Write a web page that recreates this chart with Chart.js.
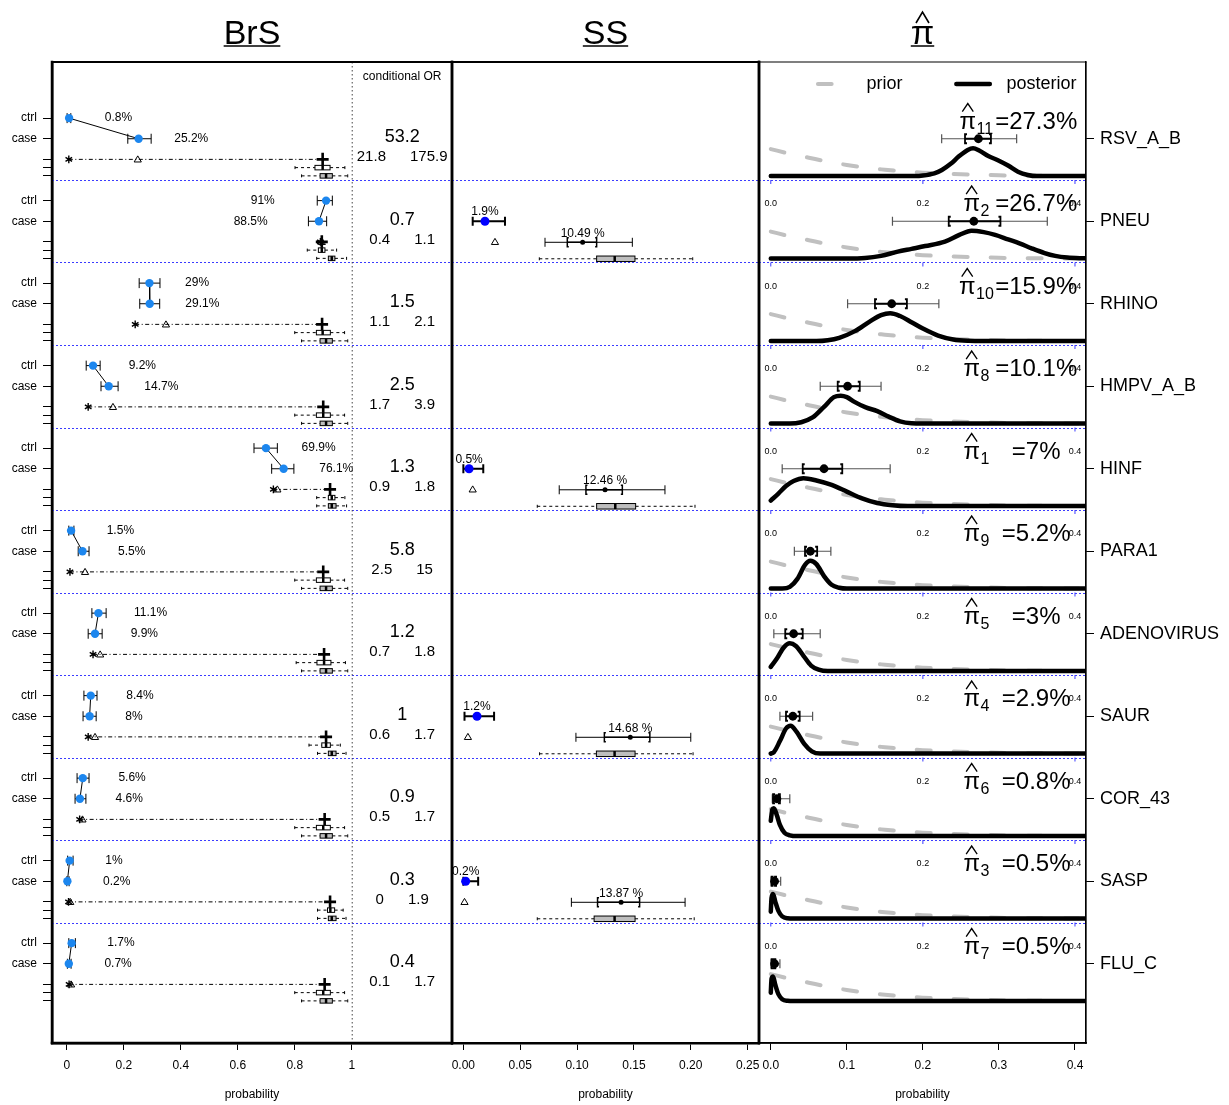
<!DOCTYPE html>
<html>
<head>
<meta charset="utf-8">
<script src="https://cdn.jsdelivr.net/npm/chart.js@4.4.0/dist/chart.umd.min.js"></script>
<style>
  body { margin: 0; background: #fff; }
  #wrap { position: relative; width: 1229px; height: 1105px; overflow: hidden; }
  #wrap canvas { position: absolute; left: 0; top: 0; }
</style>
</head>
<body>
<div id="wrap">
  <canvas id="brs" width="1229" height="1105"></canvas>
  <canvas id="ss" width="1229" height="1105"></canvas>
  <canvas id="pie" width="1229" height="1105"></canvas>
</div>
<script>
// ---- data ----
const pathogens = ['RSV_A_B', 'PNEU', 'RHINO', 'HMPV_A_B', 'HINF', 'PARA1', 'ADENOVIRUS', 'SAUR', 'COR_43', 'SASP', 'FLU_C'];
const piIndex = [11, 2, 10, 8, 1, 9, 5, 4, 6, 3, 7];

// BrS: observed positive rates with 95% CI
const ctrlRate = [0.008, 0.91, 0.29, 0.092, 0.699, 0.015, 0.111, 0.084, 0.056, 0.010, 0.017];
const ctrlLo = [0.001, 0.879, 0.254, 0.068, 0.657, 0.007, 0.088, 0.060, 0.036, 0.003, 0.007];
const ctrlHi = [0.014, 0.932, 0.327, 0.117, 0.739, 0.025, 0.138, 0.106, 0.078, 0.022, 0.030];
const caseRate = [0.252, 0.885, 0.291, 0.147, 0.761, 0.055, 0.099, 0.080, 0.046, 0.002, 0.007];
const caseLo = [0.214, 0.848, 0.256, 0.120, 0.719, 0.040, 0.075, 0.057, 0.029, 0.000, 0.002];
const caseHi = [0.296, 0.912, 0.326, 0.180, 0.797, 0.078, 0.124, 0.103, 0.067, 0.008, 0.015];
// fitted rates (star, triangle) and TPR marker (plus)
const starPos = [0.007, 0.890, 0.240, 0.075, 0.725, 0.011, 0.092, 0.075, 0.045, 0.006, 0.008];
const triPos = [0.249, 0.895, 0.348, 0.162, 0.739, 0.064, 0.117, 0.099, 0.055, 0.012, 0.015];
const plusPos = [0.898, 0.895, 0.896, 0.900, 0.924, 0.900, 0.903, 0.910, 0.905, 0.924, 0.905];
// posterior boxplots [lower whisker, q1, median, q3, upper whisker]
const brsBoxA = [
  [0.801, 0.871, 0.898, 0.924, 0.976], [0.844, 0.883, 0.895, 0.906, 0.947], [0.800, 0.876, 0.898, 0.925, 0.975],
  [0.800, 0.876, 0.900, 0.925, 0.975], [0.877, 0.918, 0.930, 0.941, 0.976], [0.800, 0.876, 0.900, 0.925, 0.975],
  [0.805, 0.878, 0.903, 0.927, 0.978], [0.850, 0.895, 0.910, 0.925, 0.960], [0.800, 0.876, 0.900, 0.925, 0.975],
  [0.880, 0.915, 0.925, 0.940, 0.970], [0.800, 0.876, 0.900, 0.925, 0.975]
];
const brsBoxB = [
  [0.824, 0.889, 0.910, 0.932, 0.986], [0.877, 0.918, 0.930, 0.941, 0.982], [0.824, 0.889, 0.910, 0.932, 0.986],
  [0.824, 0.889, 0.910, 0.932, 0.986], [0.877, 0.918, 0.930, 0.945, 0.982], [0.824, 0.889, 0.910, 0.932, 0.986],
  [0.824, 0.889, 0.910, 0.932, 0.986], [0.880, 0.918, 0.930, 0.945, 0.980], [0.824, 0.889, 0.910, 0.932, 0.986],
  [0.880, 0.918, 0.930, 0.945, 0.980], [0.824, 0.889, 0.910, 0.932, 0.986]
];
// conditional odds ratios
const orEst = [53.2, 0.7, 1.5, 2.5, 1.3, 5.8, 1.2, 1, 0.9, 0.3, 0.4];
const orLo = [21.8, 0.4, 1.1, 1.7, 0.9, 2.5, 0.7, 0.6, 0.5, 0, 0.1];
const orHi = [175.9, 1.1, 2.1, 3.9, 1.8, 15, 1.8, 1.7, 1.7, 1.9, 1.7];

// SS panel
const ssRate = [null, 0.019, null, null, 0.005, null, null, 0.012, null, 0.002, null];
const ssLo = [null, 0.0082, null, null, 0.000, null, null, 0.001, null, 0.000, null];
const ssHi = [null, 0.0366, null, null, 0.0175, null, null, 0.027, null, 0.013, null];
const ssTri = [null, 0.0278, null, null, 0.0082, null, null, 0.004, null, 0.001, null];
const ssFit = [null, 0.1049, null, null, 0.1246, null, null, 0.1468, null, 0.1387, null];
const ssFitLo95 = [null, 0.0718, null, null, 0.0843, null, null, 0.099, null, 0.095, null];
const ssFitHi95 = [null, 0.1486, null, null, 0.1773, null, null, 0.200, null, 0.195, null];
const ssFitLo50 = [null, 0.0914, null, null, 0.1078, null, null, 0.124, null, 0.118, null];
const ssFitHi50 = [null, 0.1172, null, null, 0.1398, null, null, 0.164, null, 0.155, null];
const ssBox = [null, [0.0668, 0.1172, 0.1331, 0.1509, 0.2017], null, null, [0.065, 0.1172, 0.1336, 0.1515, 0.2037],
  null, null, [0.067, 0.117, 0.133, 0.151, 0.202], null, [0.065, 0.115, 0.133, 0.151, 0.203], null];

// pi-hat panel
const piEst = [0.273, 0.267, 0.159, 0.101, 0.07, 0.052, 0.03, 0.029, 0.008, 0.005, 0.005];
const piLo95 = [0.2247, 0.160, 0.101, 0.065, 0.015, 0.031, 0.004, 0.012, 0.002, 0.0005, 0.0005];
const piHi95 = [0.3233, 0.3636, 0.221, 0.145, 0.157, 0.079, 0.065, 0.055, 0.025, 0.013, 0.012];
const piLo50 = [0.2554, 0.234, 0.137, 0.088, 0.042, 0.045, 0.019, 0.020, 0.003, 0.001, 0.001];
const piHi50 = [0.2895, 0.302, 0.179, 0.117, 0.094, 0.061, 0.042, 0.038, 0.012, 0.007, 0.006];

// densities, [x, relative height]
const priorCurve = [[0, 0.97], [0.025, 0.8], [0.05, 0.66], [0.075, 0.52], [0.1, 0.4], [0.125, 0.3], [0.15, 0.23],
  [0.175, 0.17], [0.2, 0.125], [0.25, 0.065], [0.3, 0.03], [0.35, 0.012], [0.4145, 0.002]];
const postRSV = [[0, 0], [0.19, 0], [0.2, 0.02], [0.215, 0.1], [0.225, 0.22], [0.237, 0.45], [0.247, 0.7], [0.259, 0.94],
  [0.266, 1], [0.274, 0.92], [0.286, 0.72], [0.298, 0.58], [0.312, 0.38], [0.325, 0.16], [0.338, 0.04], [0.35, 0], [0.4145, 0]];
const postPNEU = [[0, 0], [0.1, 0], [0.124, 0.02], [0.145, 0.1], [0.167, 0.25], [0.185, 0.35], [0.203, 0.45], [0.229, 0.61],
  [0.248, 0.85], [0.264, 1], [0.28, 0.95], [0.295, 0.85], [0.312, 0.69], [0.327, 0.55], [0.343, 0.37], [0.36, 0.2],
  [0.374, 0.1], [0.39, 0.04], [0.4145, 0.01]];
const postRHINO = [[0, 0], [0.06, 0], [0.075, 0.03], [0.09, 0.12], [0.11, 0.35], [0.13, 0.7], [0.145, 0.93], [0.157, 1],
  [0.17, 0.9], [0.185, 0.68], [0.2, 0.45], [0.22, 0.2], [0.24, 0.06], [0.26, 0.01], [0.28, 0], [0.4145, 0]];
const postHMPV = [[0, 0], [0.025, 0], [0.04, 0.05], [0.055, 0.22], [0.07, 0.6], [0.083, 0.95], [0.092, 1], [0.1, 0.95],
  [0.11, 0.78], [0.125, 0.58], [0.14, 0.45], [0.155, 0.25], [0.17, 0.08], [0.185, 0.01], [0.2, 0], [0.4145, 0]];
const postHINF = [[0, 0.2], [0.01, 0.45], [0.02, 0.72], [0.03, 0.9], [0.043, 1], [0.06, 0.92], [0.08, 0.76], [0.1, 0.52],
  [0.12, 0.28], [0.14, 0.11], [0.16, 0.03], [0.18, 0], [0.4145, 0]];
const postPARA1 = [[0, 0], [0.015, 0], [0.025, 0.06], [0.035, 0.35], [0.045, 0.85], [0.052, 1], [0.06, 0.88], [0.07, 0.45],
  [0.08, 0.14], [0.09, 0.03], [0.1, 0], [0.4145, 0]];
const postADENO = [[0, 0.15], [0.008, 0.45], [0.017, 0.85], [0.025, 1], [0.033, 0.9], [0.043, 0.55], [0.053, 0.2],
  [0.063, 0.05], [0.075, 0], [0.4145, 0]];
const postSAUR = [[0, 0], [0.004, 0.05], [0.012, 0.45], [0.02, 0.9], [0.026, 1], [0.034, 0.78], [0.044, 0.35], [0.054, 0.08],
  [0.065, 0], [0.4145, 0]];
const postCOR43 = [[0, 0.55], [0.002, 0.95], [0.004, 1], [0.008, 0.75], [0.012, 0.4], [0.018, 0.12], [0.025, 0.03],
  [0.035, 0], [0.4145, 0]];
const postSASP = [[0, 0.25], [0.001, 0.75], [0.003, 0.88], [0.006, 0.6], [0.01, 0.28], [0.015, 0.08], [0.022, 0.01],
  [0.03, 0], [0.4145, 0]];
const postFLUC = [[0, 0.3], [0.001, 0.8], [0.003, 0.88], [0.006, 0.58], [0.01, 0.25], [0.015, 0.07], [0.022, 0.01],
  [0.03, 0], [0.4145, 0]];
const postCurves = [postRSV, postPNEU, postRHINO, postHMPV, postHINF, postPARA1, postADENO, postSAUR, postCOR43, postSASP, postFLUC];

// ---- layout ----
const FONT = '"Liberation Sans", Arial, Helvetica, sans-serif';
Chart.defaults.font.family = FONT;
Chart.defaults.color = '#000';
Chart.defaults.animation = false;
Chart.defaults.plugins.legend.display = false;
Chart.defaults.plugins.tooltip.enabled = false;

const Y_MIN = -0.4606, Y_MAX = 11.4303;   // each pathogen owns one unit of y
const base = i => 10 - i;
const BLUE_PT = '#1c86ee';

function pct(v) { return String(Math.round(v * 1000) / 10) + '%'; }

function txt(ctx, s, x, y, size, align, baseline) {
  ctx.font = size + 'px ' + FONT;
  ctx.textAlign = align || 'center';
  ctx.textBaseline = baseline || 'middle';
  ctx.fillText(s, x, y);
}
function capBar(ctx, x1, x2, y, cap) {
  ctx.beginPath();
  ctx.moveTo(x1, y); ctx.lineTo(x2, y);
  ctx.moveTo(x1, y - cap); ctx.lineTo(x1, y + cap);
  ctx.moveTo(x2, y - cap); ctx.lineTo(x2, y + cap);
  ctx.stroke();
}
function bracketBar(ctx, x1, x2, y, cap, flag) {
  ctx.beginPath();
  ctx.moveTo(x1 + flag, y - cap); ctx.lineTo(x1, y - cap); ctx.lineTo(x1, y + cap); ctx.lineTo(x1 + flag, y + cap);
  ctx.moveTo(x2 - flag, y - cap); ctx.lineTo(x2, y - cap); ctx.lineTo(x2, y + cap); ctx.lineTo(x2 - flag, y + cap);
  ctx.moveTo(x1, y); ctx.lineTo(x2, y);
  ctx.stroke();
}
function boxPlot(ctx, X, y, s, h, fill) {
  const [wl, q1, md, q3, wh] = s.map(X);
  ctx.save();
  ctx.strokeStyle = '#000'; ctx.lineWidth = 1;
  ctx.setLineDash([3, 3]);
  ctx.beginPath(); ctx.moveTo(wl, y); ctx.lineTo(q1, y); ctx.moveTo(q3, y); ctx.lineTo(wh, y); ctx.stroke();
  ctx.setLineDash([]);
  ctx.beginPath(); ctx.moveTo(wl, y - 1.5); ctx.lineTo(wl, y + 1.5); ctx.moveTo(wh, y - 1.5); ctx.lineTo(wh, y + 1.5); ctx.stroke();
  ctx.fillStyle = fill;
  ctx.fillRect(q1, y - h / 2, q3 - q1, h);
  ctx.strokeRect(q1, y - h / 2, q3 - q1, h);
  ctx.lineWidth = 2.5;
  ctx.beginPath(); ctx.moveTo(md, y - h / 2); ctx.lineTo(md, y + h / 2); ctx.stroke();
  ctx.restore();
}
function triangle(ctx, x, y) {
  ctx.beginPath();
  ctx.moveTo(x, y - 3.5); ctx.lineTo(x + 3.6, y + 2.6); ctx.lineTo(x - 3.6, y + 2.6); ctx.closePath();
  ctx.stroke();
}
function asterisk(ctx, x, y) {
  ctx.beginPath();
  for (let k = 0; k < 3; k++) {
    const a = Math.PI / 2 + k * Math.PI / 3;
    ctx.moveTo(x + 3.8 * Math.cos(a), y - 3.8 * Math.sin(a));
    ctx.lineTo(x - 3.8 * Math.cos(a), y + 3.8 * Math.sin(a));
  }
  ctx.stroke();
}
function plus(ctx, x, y) {
  ctx.save(); ctx.lineWidth = 2.6;
  ctx.beginPath(); ctx.moveTo(x - 6, y); ctx.lineTo(x + 6, y); ctx.moveTo(x, y - 6.5); ctx.lineTo(x, y + 6.5); ctx.stroke();
  ctx.restore();
}
function rowRules(chart) {
  const {ctx, chartArea: a, scales: {y}} = chart;
  ctx.save();
  ctx.strokeStyle = '#3b3bff'; ctx.lineWidth = 1; ctx.setLineDash([2, 2]);
  for (let k = 1; k <= 10; k++) {
    const py = Math.round(y.getPixelForValue(k)) + 0.5;
    ctx.beginPath(); ctx.moveTo(a.left, py); ctx.lineTo(a.right, py); ctx.stroke();
  }
  ctx.restore();
}

// box outline + underlined panel title
const framePlugin = {
  id: 'frame',
  afterDraw(chart, args, o) {
    const {ctx, chartArea: a} = chart;
    ctx.save();
    ctx.strokeStyle = '#000'; ctx.lineCap = 'square';
    const side = (w, x1, y1, x2, y2) => {
      if (!w) return;
      ctx.lineWidth = w; ctx.beginPath(); ctx.moveTo(x1, y1); ctx.lineTo(x2, y2); ctx.stroke();
    };
    side(o.top, a.left, a.top, a.right, a.top);
    side(o.right, a.right, a.top, a.right, a.bottom);
    side(o.bottom, a.left, a.bottom, a.right, a.bottom);
    side(o.left, a.left, a.top, a.left, a.bottom);
    // title
    const cx = (a.left + a.right) / 2;
    ctx.fillStyle = '#000';
    ctx.font = '34px ' + FONT; ctx.textAlign = 'center'; ctx.textBaseline = 'alphabetic';
    ctx.fillText(o.title, cx, 43.5);
    const w = ctx.measureText(o.title).width;
    ctx.lineWidth = 1.5; ctx.lineCap = 'butt';
    ctx.beginPath(); ctx.moveTo(cx - w / 2, 46); ctx.lineTo(cx + w / 2, 46); ctx.stroke();
    if (o.hat) {
      ctx.lineWidth = 1.6;
      ctx.beginPath(); ctx.moveTo(cx - 6.5, 23); ctx.lineTo(cx, 12); ctx.lineTo(cx + 6.5, 23); ctx.stroke();
    }
    ctx.restore();
  }
};

function xAxis(min, max, ticks, fmt, border) {
  return {
    type: 'linear', min: min, max: max, bounds: 'data',
    afterBuildTicks: s => { s.ticks = ticks.map(v => ({value: v})); },
    afterFit: s => { s.height = 62; },
    ticks: { callback: fmt, font: {size: 12}, padding: 8, maxRotation: 0, autoSkip: false, color: '#000' },
    grid: { drawOnChartArea: false, tickLength: 7, tickColor: '#000' },
    border: { color: '#000', width: border },
    title: { display: true, text: 'probability', font: {size: 12}, padding: {top: 0, bottom: 3} }
  };
}

// ---- panel 1: BrS ----
const brsYTicks = [], brsYLabels = [];
pathogens.forEach((p, i) => {
  [[0.75, 'ctrl'], [0.5, 'case'], [0.25, ''], [0.15, ''], [0.05, '']].forEach(([o, l]) => {
    brsYTicks.push(base(i) + o); brsYLabels.push(l);
  });
});

const brsPlugin = {
  id: 'brsMarks',
  beforeDatasetsDraw(chart) {
    const {ctx, chartArea: a, scales: {x, y}} = chart;
    const X = v => x.getPixelForValue(v), Y = v => y.getPixelForValue(v);
    rowRules(chart);
    ctx.save();
    ctx.strokeStyle = '#444'; ctx.lineWidth = 1; ctx.setLineDash([1.5, 2.5]);
    ctx.beginPath(); ctx.moveTo(X(1) + 0.5, a.top); ctx.lineTo(X(1) + 0.5, a.bottom); ctx.stroke();
    ctx.setLineDash([]);
    ctx.strokeStyle = '#000';
    pathogens.forEach((p, i) => {
      const b = base(i);
      ctx.lineWidth = 1;
      capBar(ctx, X(ctrlLo[i]), X(ctrlHi[i]), Y(b + 0.75), 5);
      capBar(ctx, X(caseLo[i]), X(caseHi[i]), Y(b + 0.5), 5);
      // fitted line
      const ys = Y(b + 0.25);
      ctx.setLineDash([4, 2.5, 1, 2.5]);
      ctx.beginPath(); ctx.moveTo(X(starPos[i]), ys); ctx.lineTo(X(plusPos[i]), ys); ctx.stroke();
      ctx.setLineDash([]);
      ctx.lineWidth = 1.4;
      asterisk(ctx, X(starPos[i]), ys);
      ctx.lineWidth = 1;
      triangle(ctx, X(triPos[i]), ys);
      plus(ctx, X(plusPos[i]), ys);
      boxPlot(ctx, X, Y(b + 0.15), brsBoxA[i], 4.5, '#fff');
      boxPlot(ctx, X, Y(b + 0.05), brsBoxB[i], 4.5, '#bebebe');
    });
    ctx.restore();
  },
  afterDatasetsDraw(chart) {
    const {ctx, scales: {x, y}} = chart;
    const X = v => x.getPixelForValue(v), Y = v => y.getPixelForValue(v);
    ctx.save(); ctx.fillStyle = '#000';
    txt(ctx, 'conditional OR', X(1.177), Y(11.248), 12);
    const lab = (v, yy) => {
      if (v > 0.8) txt(ctx, pct(v), X(v - 0.18), yy, 12, 'right');
      else txt(ctx, pct(v), X(v + 0.125), yy, 12, 'left');
    };
    pathogens.forEach((p, i) => {
      const b = base(i);
      lab(ctrlRate[i], Y(b + 0.75));
      lab(caseRate[i], Y(b + 0.5));
      const cx = X(1.177);
      txt(ctx, String(orEst[i]), cx, Y(b + 0.52), 18);
      ctx.font = '15px ' + FONT;
      const s1 = String(orLo[i]), s2 = String(orHi[i]);
      const w1 = ctx.measureText(s1).width, w2 = ctx.measureText(s2).width;
      const left = cx - (w1 + 24 + w2) / 2;
      txt(ctx, s1, left, Y(b + 0.28), 15, 'left');
      txt(ctx, s2, left + w1 + 24, Y(b + 0.28), 15, 'left');
    });
    ctx.restore();
  }
};

const brsDatasets = [
  { data: pathogens.map((p, i) => ({x: ctrlRate[i], y: base(i) + 0.75})), pointRadius: 4.2, backgroundColor: BLUE_PT, borderWidth: 0 },
  { data: pathogens.map((p, i) => ({x: caseRate[i], y: base(i) + 0.5})), pointRadius: 4.2, backgroundColor: BLUE_PT, borderWidth: 0 }
].concat(pathogens.map((p, i) => ({
  data: [{x: ctrlRate[i], y: base(i) + 0.75}, {x: caseRate[i], y: base(i) + 0.5}],
  showLine: true, borderColor: '#000', borderWidth: 1, pointRadius: 0
})));

new Chart(document.getElementById('brs'), {
  type: 'scatter',
  data: { datasets: brsDatasets },
  options: {
    responsive: false,
    layout: { padding: { left: 0, top: 62, right: 1229 - 452, bottom: 0 } },
    scales: {
      x: xAxis(-0.052, 1.352, [0, 0.2, 0.4, 0.6, 0.8, 1], v => (v === 0 || v === 1) ? String(v) : v.toFixed(1), 2.5),
      y: {
        type: 'linear', min: Y_MIN, max: Y_MAX, bounds: 'data', position: 'left',
        afterBuildTicks: s => { s.ticks = brsYTicks.map(v => ({value: v})); },
        afterFit: s => { s.width = 52; },
        ticks: { callback: (v, k) => brsYLabels[k], font: {size: 12}, padding: 6, autoSkip: false, color: '#000' },
        grid: { drawOnChartArea: false, tickLength: 9, tickColor: '#000' },
        border: { color: '#000', width: 2.5 }
      }
    },
    plugins: { frame: { top: 2, right: 2.5, bottom: 2.5, left: 2.5, title: 'BrS' } }
  },
  plugins: [brsPlugin, framePlugin]
});

// ---- panel 2: SS ----
const ssPlugin = {
  id: 'ssMarks',
  beforeDatasetsDraw(chart) {
    const {ctx, scales: {x, y}} = chart;
    const X = v => x.getPixelForValue(v), Y = v => y.getPixelForValue(v);
    rowRules(chart);
    ctx.save(); ctx.strokeStyle = '#000';
    pathogens.forEach((p, i) => {
      if (ssRate[i] === null) return;
      const b = base(i);
      ctx.lineWidth = 2;
      capBar(ctx, X(ssLo[i]), X(ssHi[i]), Y(b + 0.5), 4.5);
      ctx.lineWidth = 1;
      triangle(ctx, X(ssTri[i]), Y(b + 0.25));
      capBar(ctx, X(ssFitLo95[i]), X(ssFitHi95[i]), Y(b + 0.245), 4.5);
      ctx.lineWidth = 1.5;
      bracketBar(ctx, X(ssFitLo50[i]), X(ssFitHi50[i]), Y(b + 0.245), 4.5, 1.5);
      ctx.fillStyle = '#000';
      ctx.beginPath(); ctx.arc(X(ssFit[i]), Y(b + 0.245), 2.5, 0, Math.PI * 2); ctx.fill();
      boxPlot(ctx, X, Y(b + 0.045), ssBox[i], 5.5, '#bebebe');
    });
    ctx.restore();
  },
  afterDatasetsDraw(chart) {
    const {ctx, scales: {x, y}} = chart;
    const X = v => x.getPixelForValue(v), Y = v => y.getPixelForValue(v);
    ctx.save(); ctx.fillStyle = '#000';
    pathogens.forEach((p, i) => {
      if (ssRate[i] === null) return;
      const b = base(i);
      txt(ctx, pct(ssRate[i]), X(ssRate[i]), Y(b + 0.61), 12);
      txt(ctx, (ssFit[i] * 100).toFixed(2) + ' %', X(ssFit[i]), Y(b + 0.355), 12);
    });
    ctx.restore();
  }
};

new Chart(document.getElementById('ss'), {
  type: 'scatter',
  data: {
    datasets: [{
      data: pathogens.map((p, i) => ssRate[i] === null ? null : ({x: ssRate[i], y: base(i) + 0.5})).filter(d => d),
      pointRadius: 4.5, backgroundColor: '#0000ff', borderWidth: 0
    }]
  },
  options: {
    responsive: false,
    layout: { padding: { left: 452, top: 62, right: 1229 - 759, bottom: 0 } },
    scales: {
      x: xAxis(-0.01, 0.26, [0, 0.05, 0.1, 0.15, 0.2, 0.25], v => v.toFixed(2), 2.5),
      y: { type: 'linear', min: Y_MIN, max: Y_MAX, bounds: 'data', display: false }
    },
    plugins: { frame: { top: 2, right: 2.5, bottom: 0, left: 2.5, title: 'SS' } }
  },
  plugins: [ssPlugin, framePlugin]
});

// ---- panel 3: pi hat ----
const H0 = 0.047, HS = 0.338;   // density baseline / height within a row
const piPlugin = {
  id: 'piMarks',
  beforeDatasetsDraw(chart) {
    const {ctx, scales: {x, y}} = chart;
    const X = v => x.getPixelForValue(v), Y = v => y.getPixelForValue(v);
    rowRules(chart);
    ctx.save();
    // small per-row axes
    ctx.strokeStyle = '#3b3bff'; ctx.lineWidth = 1; ctx.fillStyle = '#000';
    for (let i = 1; i < pathogens.length; i++) {
      const b = base(i);
      [0, 0.2, 0.4].forEach(v => {
        ctx.beginPath(); ctx.moveTo(X(v), Y(b + 1)); ctx.lineTo(X(v), Y(b + 1) + 4); ctx.stroke();
        txt(ctx, v.toFixed(1), X(v), Y(b + 0.71), 9);
      });
    }
    pathogens.forEach((p, i) => {
      const yy = Y(base(i) + 0.5);
      ctx.strokeStyle = '#555'; ctx.lineWidth = 1.2;
      capBar(ctx, X(piLo95[i]), X(piHi95[i]), yy, 4.5);
      ctx.strokeStyle = '#000'; ctx.lineWidth = 1.8;
      bracketBar(ctx, X(piLo50[i]), X(piHi50[i]), yy, 4.5, 2);
    });
    ctx.restore();
  },
  afterDatasetsDraw(chart) {
    const {ctx, scales: {x, y}} = chart;
    const X = v => x.getPixelForValue(v), Y = v => y.getPixelForValue(v);
    ctx.save(); ctx.fillStyle = '#000'; ctx.strokeStyle = '#000';
    // legend
    const ly = Y(11.164);
    ctx.lineWidth = 4; ctx.lineCap = 'round'; ctx.strokeStyle = '#c0c0c0';
    ctx.beginPath(); ctx.moveTo(X(0.062), ly); ctx.lineTo(X(0.080), ly); ctx.stroke();
    ctx.strokeStyle = '#000'; ctx.lineWidth = 4.5;
    ctx.beginPath(); ctx.moveTo(X(0.244), ly); ctx.lineTo(X(0.288), ly); ctx.stroke();
    ctx.lineCap = 'butt';
    txt(ctx, 'prior', X(0.126), ly, 18, 'left');
    txt(ctx, 'posterior', X(0.31), ly, 18, 'left');
    // pi-hat labels
    pathogens.forEach((p, i) => {
      const by = Y(base(i) + 0.624);
      const sub = String(piIndex[i]);
      ctx.font = '24px ' + FONT;
      const wp = ctx.measureText('\u03c0').width;
      ctx.font = '16px ' + FONT;
      const ws = ctx.measureText(sub).width;
      const left = X(0.27) - (wp + ws) / 2;
      txt(ctx, '\u03c0', left, by, 24, 'left', 'alphabetic');
      txt(ctx, sub, left + wp + 0.5, by + 5, 16, 'left', 'alphabetic');
      ctx.lineWidth = 1.3;
      const hc = left + wp / 2;
      ctx.beginPath(); ctx.moveTo(hc - 5.5, by - 17); ctx.lineTo(hc, by - 25); ctx.lineTo(hc + 5.5, by - 17); ctx.stroke();
      txt(ctx, '=' + pct(piEst[i]), X(0.349), by, 24, 'center', 'alphabetic');
    });
    ctx.restore();
  }
};

const curveData = (pts, i) => pts.map(([px, h]) => ({x: px, y: base(i) + H0 + HS * h}));
const piDatasets = [{
  data: pathogens.map((p, i) => ({x: piEst[i], y: base(i) + 0.5})),
  pointRadius: 4.4, backgroundColor: '#000', borderWidth: 0
}].concat(postCurves.map((c, i) => ({
  type: 'line', data: curveData(c, i), borderColor: '#000', borderWidth: 4.5, pointRadius: 0,
  cubicInterpolationMode: 'monotone', borderCapStyle: 'round', borderJoinStyle: 'round'
}))).concat(pathogens.map((p, i) => ({
  type: 'line', data: curveData(priorCurve, i), borderColor: '#c0c0c0', borderWidth: 4, pointRadius: 0,
  cubicInterpolationMode: 'monotone', borderDash: [14, 23], borderCapStyle: 'round'
})));

new Chart(document.getElementById('pie'), {
  type: 'scatter',
  data: { datasets: piDatasets },
  options: {
    responsive: false,
    layout: { padding: { left: 759, top: 62, right: 0, bottom: 0 } },
    scales: {
      x: xAxis(-0.0155, 0.4145, [0, 0.1, 0.2, 0.3, 0.4], v => v.toFixed(1), 1.5),
      y: {
        type: 'linear', min: Y_MIN, max: Y_MAX, bounds: 'data', position: 'right',
        afterBuildTicks: s => { s.ticks = pathogens.map((p, i) => ({value: base(i) + 0.5})); },
        afterFit: s => { s.width = 1229 - 1086; },
        ticks: { callback: (v, k) => pathogens[k], font: {size: 18}, padding: 6, autoSkip: false, color: '#000' },
        grid: { drawOnChartArea: false, tickLength: 8, tickColor: '#000' },
        border: { color: '#000', width: 1.2 }
      }
    },
    plugins: { frame: { top: 1.2, right: 1.2, bottom: 1.5, left: 2.5, title: '\u03c0', hat: true } }
  },
  plugins: [piPlugin, framePlugin]
});
</script>
</body>
</html>
